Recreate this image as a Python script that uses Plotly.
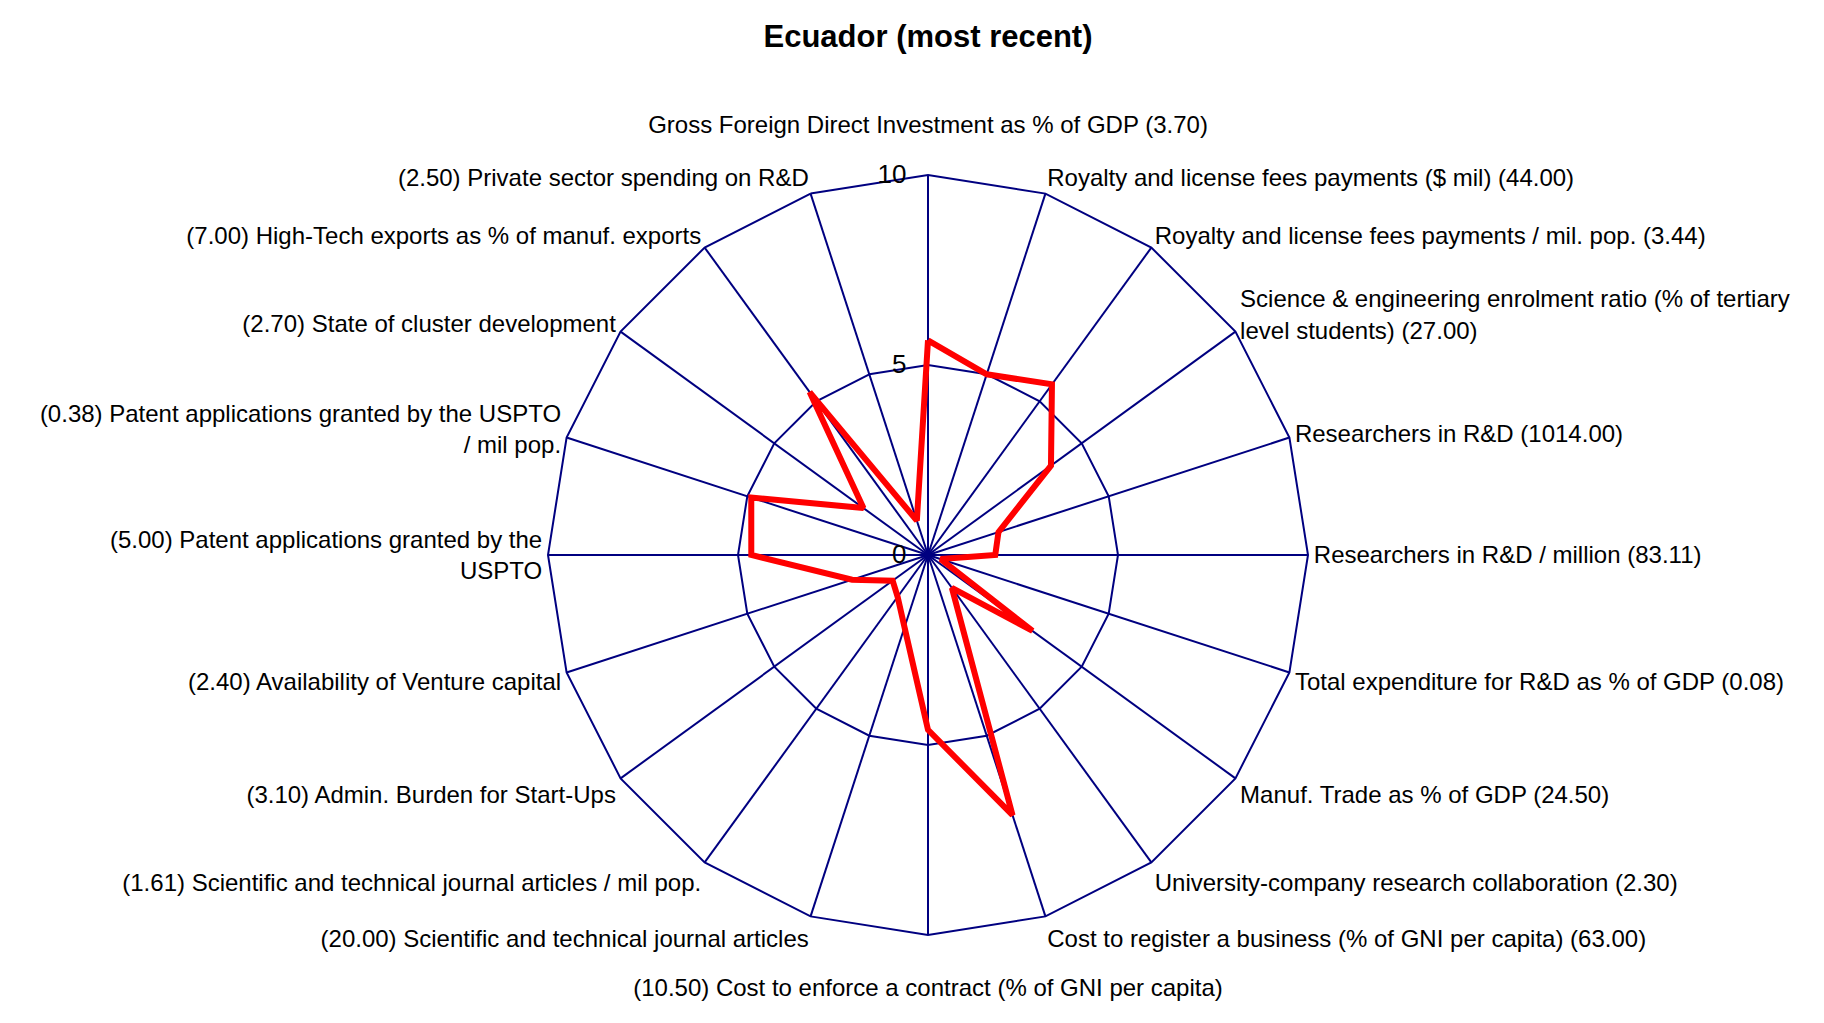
import plotly.graph_objects as go

categories = [
    "Gross Foreign Direct Investment as % of GDP (3.70)",
    "Royalty and license fees payments ($ mil) (44.00)",
    "Royalty and license fees payments / mil. pop. (3.44)",
    "Science & engineering enrolment ratio (% of tertiary<br>level students) (27.00)",
    "Researchers in R&D (1014.00)",
    "Researchers in R&D / million (83.11)",
    "Total expenditure for R&D as % of GDP (0.08)",
    "Manuf. Trade as % of GDP (24.50)",
    "University-company research collaboration (2.30)",
    "Cost to register a business (% of GNI per capita) (63.00)",
    "(10.50) Cost to enforce a contract (% of GNI per capita)",
    "(20.00) Scientific and technical journal articles",
    "(1.61) Scientific and technical journal articles / mil pop.",
    "(3.10) Admin. Burden for Start-Ups",
    "(2.40) Availability of Venture capital",
    "(5.00) Patent applications granted by the<br>USPTO",
    "(0.38) Patent applications granted by the USPTO<br>/ mil pop.",
    "(2.70) State of cluster development",
    "(7.00) High-Tech exports as % of manuf. exports",
    "(2.50) Private sector spending on R&D",
]

ecuador_scores = [5.65, 5.0, 5.55, 4.0, 1.95, 1.77, 0.35, 3.4, 1.07, 7.2,
                  4.6, 2.0, 1.36, 1.15, 2.1, 4.65, 4.89, 2.1, 5.3, 0.95]

radial_ticks = [0, 5, 10]

W, H = 1824, 1023
CX, CY, R = 920, 547, 380

FONT = "Liberation Sans, Arial, sans-serif"
NAVY = "#000080"

# tick labels: add a blank line to lift the top label and lower the bottom one
tick_labels = list(categories)
tick_labels[0] = tick_labels[0] + "<br> "
tick_labels[len(categories) // 2] = " <br>" + tick_labels[len(categories) // 2]

fig = go.Figure()
fig.add_trace(go.Scatterpolar(
    r=ecuador_scores + ecuador_scores[:1],
    theta=categories + categories[:1],
    mode="lines",
    line=dict(color="#FF0000", width=6),
    showlegend=False,
    hoverinfo="skip",
))

fig.update_layout(
    width=W, height=H,
    margin=dict(l=0, r=0, t=0, b=0),
    paper_bgcolor="white",
    plot_bgcolor="white",
    title=dict(text="<b>Ecuador (most recent)</b>", x=CX / W, xanchor="center",
               y=1 - 28 / H, yanchor="middle",
               font=dict(family=FONT, size=31, color="black")),
    polar=dict(
        domain=dict(x=[(CX - R) / W, (CX + R) / W],
                    y=[(H - CY - R) / H, (H - CY + R) / H]),
        bgcolor="white",
        gridshape="linear",
        angularaxis=dict(
            type="category",
            categoryorder="array",
            categoryarray=categories,
            tickvals=categories,
            ticktext=tick_labels,
            rotation=90,
            direction="clockwise",
            showgrid=True, gridcolor=NAVY, gridwidth=2,
            showline=True, linecolor=NAVY, linewidth=2,
            ticks="",
            tickfont=dict(family=FONT, size=24, color="black"),
        ),
        radialaxis=dict(
            range=[0, 10],
            tickvals=radial_ticks,
            ticktext=[str(v) for v in radial_ticks],
            angle=90,
            tickangle=90,
            side="counterclockwise",
            showgrid=True, gridcolor=NAVY, gridwidth=2,
            showline=False,
            ticks="outside", ticklen=12, tickcolor="rgba(0,0,0,0)",
            tickfont=dict(family=FONT, size=26, color="black"),
        ),
    ),
)

fig.write_html("out.html")
